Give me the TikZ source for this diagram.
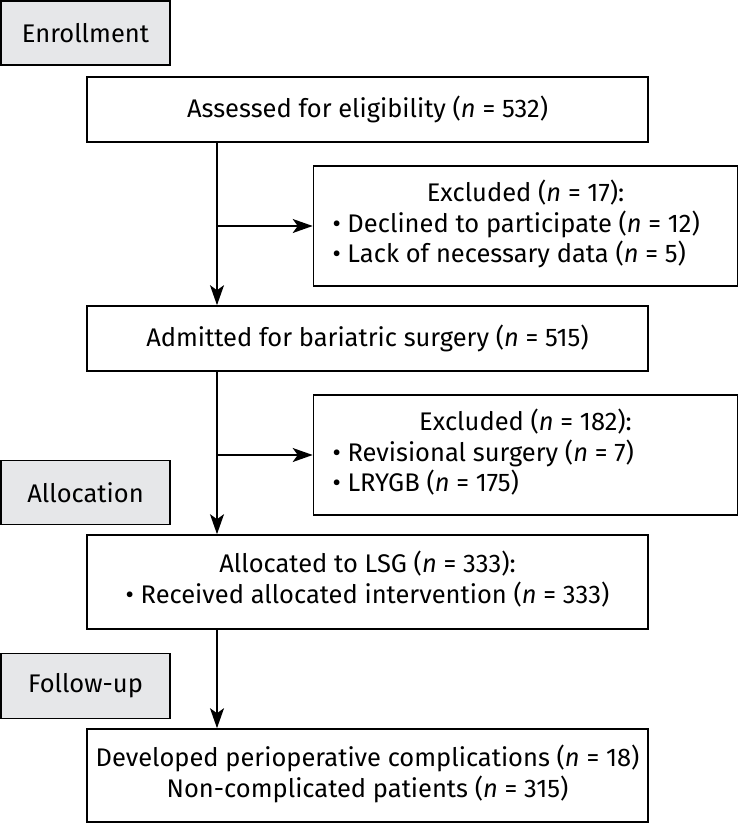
\documentclass[tikz,border=0pt]{standalone}
\usepackage{fontspec}
\setmainfont{Fira Sans}
\usetikzlibrary{arrows.meta}
\definecolor{stagegray}{HTML}{E6E7E9}

\begin{document}
\begin{tikzpicture}[x=1pt,y=-1pt,
  every node/.style={font=\fontsize{25.5}{30.5}\selectfont},
  stagebox/.style={draw, line width=1.6pt, fill=stagegray, minimum width=169pt, inner sep=0pt},
  flowbox/.style={draw, line width=1.6pt, minimum width=561pt, inner sep=0pt},
  exclbox/.style={draw, line width=1.6pt, minimum width=424pt, minimum height=120pt, inner sep=0pt},
  flow/.style={line width=1.6pt, -{Stealth[length=20pt, width=14pt, inset=5pt]}}]
\useasboundingbox (0,0) rectangle (739,824);
\coordinate (stem) at (217,0);
% stages on the left
\node[stagebox, minimum height=64pt] (enroll) at (85.5,33) {Enrollment};
\node[stagebox, minimum height=64pt] (alloc) at (85.5,492.5) {Allocation};
\node[stagebox, minimum height=65pt] (follow) at (85.5,686) {Follow-up};
% main flow
\node[flowbox, minimum height=65pt] (assess) at (367.5,109.5) {Assessed for eligibility (\textit{n} = 532)};
\node[flowbox, minimum height=65pt] (admit) at (367.5,338.5) {Admitted for bariatric surgery (\textit{n} = 515)};
\node[flowbox, minimum height=94pt] (lsg) at (367.5,582) {\begin{tabular}{@{}c@{}}Allocated to LSG (\textit{n} = 333):\\ \textbullet\ Received allocated intervention (\textit{n} = 333)\end{tabular}};
\node[flowbox, minimum height=93pt] (outcome) at (367.5,775.5) {\begin{tabular}{@{}c@{}}Developed perioperative complications (\textit{n} = 18)\\ Non-complicated patients (\textit{n} = 315)\end{tabular}};
% exclusions
\node[exclbox] (excl1) at (525.5,226) {\begin{tabular}{@{}p{386pt}@{}}\multicolumn{1}{@{}c@{}}{Excluded (\textit{n} = 17):}\\ \textbullet\ Declined to participate (\textit{n} = 12)\\ \textbullet\ Lack of necessary data (\textit{n} = 5)\end{tabular}};
\node[exclbox] (excl2) at (525.5,455) {\begin{tabular}{@{}p{386pt}@{}}\multicolumn{1}{@{}c@{}}{Excluded (\textit{n} = 182):}\\ \textbullet\ Revisional surgery (\textit{n} = 7)\\ \textbullet\ LRYGB (\textit{n} = 175)\end{tabular}};
% arrows
\draw[flow] (assess.south -| stem) -- (admit.north -| stem);
\draw[flow] (excl1.west -| stem) -- (excl1.west);
\draw[flow] (admit.south -| stem) -- (lsg.north -| stem);
\draw[flow] (excl2.west -| stem) -- (excl2.west);
\draw[flow] (lsg.south -| stem) -- (outcome.north -| stem);
\end{tikzpicture}
\end{document}
